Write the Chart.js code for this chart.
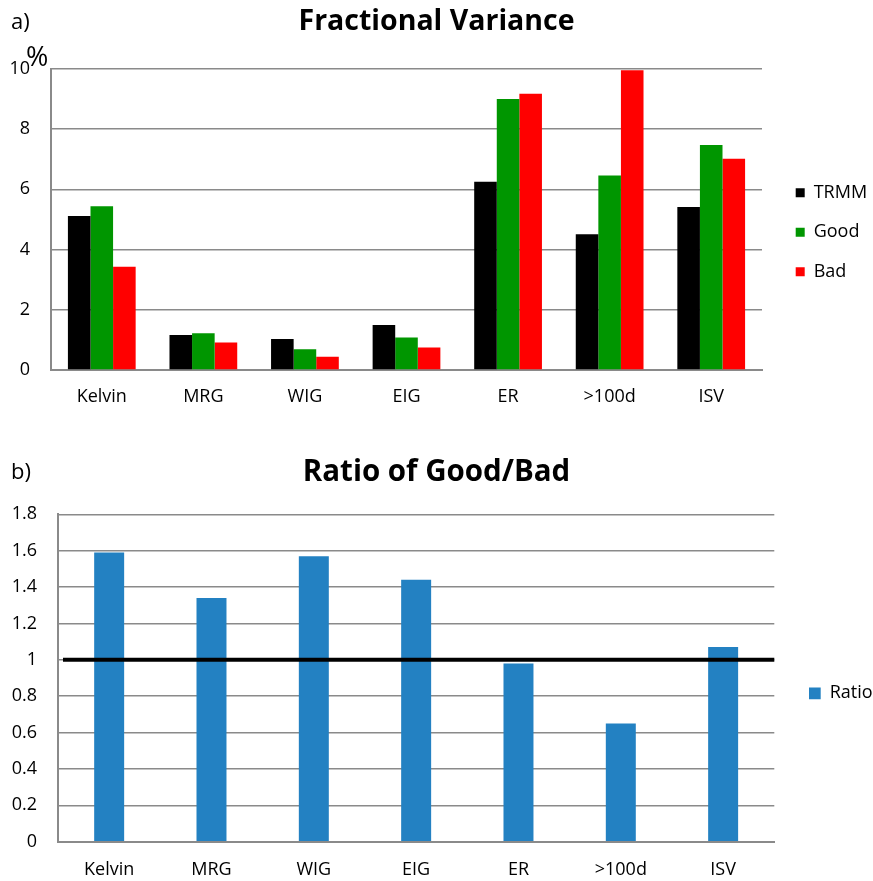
<!DOCTYPE html>
<html>
<head>
<meta charset="utf-8">
<script src="https://cdn.jsdelivr.net/npm/chart.js@4/dist/chart.umd.min.js"></script>
<style>
  html, body { margin: 0; padding: 0; background: #fff; overflow: hidden; }
  #page { position: relative; width: 873px; height: 881px; }
  .panel { position: absolute; left: 0; }
</style>
</head>
<body>
<div id="page">
  <div class="panel" style="top:0;width:873px;height:450px"><canvas id="fracChart" width="873" height="450"></canvas></div>
  <div class="panel" style="top:450px;width:873px;height:431px"><canvas id="ratioChart" width="873" height="431"></canvas></div>
</div>
<script>
// Wave categories shared by both panels
const categories = ['Kelvin', 'MRG', 'WIG', 'EIG', 'ER', '>100d', 'ISV'];

// Panel a: fractional variance (%)
const trmmVariance = [5.11, 1.16, 1.03, 1.49, 6.25, 4.51, 5.41];
const goodVariance = [5.44, 1.22, 0.69, 1.08, 9.00, 6.46, 7.47];
const badVariance  = [3.43, 0.91, 0.44, 0.75, 9.17, 9.95, 7.01];

// Panel b: ratio of good to bad
const goodBadRatio = [1.59, 1.34, 1.57, 1.44, 0.98, 0.65, 1.07];
const parityLevel = 1;

const FONT = '"Open Sans", Lato, sans-serif';
const GRID = '#8a8a8a';

Chart.defaults.color = '#000';
Chart.defaults.font.family = FONT;
Chart.defaults.animation = false;

// Moves the legend block to a fixed spot beside the plot
const legendPlace = {
  id: 'legendPlace',
  afterLayout(chart, args, opts) {
    const lg = chart.legend;
    if (!lg) return;
    const pad = lg.options.labels.padding;
    const w = lg.width, h = lg.height;
    lg.left = opts.x - pad; lg.right = lg.left + w;
    lg.top = opts.y - pad; lg.bottom = lg.top + h;
  }
};

// Panel tag ("a)", "b)") and the axis unit label
const panelText = {
  id: 'panelText',
  afterDraw(chart, args, opts) {
    const ctx = chart.ctx;
    ctx.save();
    ctx.fillStyle = '#000';
    ctx.textBaseline = 'alphabetic';
    ctx.textAlign = 'left';
    (opts.items || []).forEach(it => {
      ctx.font = it.size + 'px ' + FONT;
      ctx.fillText(it.text, it.x, it.y);
    });
    ctx.restore();
  }
};

// Horizontal reference line at a value of the y scale
const refLine = {
  id: 'refLine',
  afterDatasetsDraw(chart, args, opts) {
    if (opts.value === undefined) return;
    const {ctx, chartArea} = chart;
    const y = chart.scales.y.getPixelForValue(opts.value);
    ctx.save();
    ctx.strokeStyle = '#000';
    ctx.lineWidth = 4;
    ctx.beginPath();
    ctx.moveTo(chartArea.left + opts.inset, y);
    ctx.lineTo(chartArea.right, y);
    ctx.stroke();
    ctx.restore();
  }
};

function yAxis(max, step, width, fmt) {
  return {
    min: 0, max: max,
    ticks: { stepSize: step, padding: 21, font: { size: 18 }, callback: fmt },
    grid: { color: GRID, lineWidth: 1.5, drawTicks: false },
    border: { color: GRID, width: 2 },
    afterFit(s) { s.width = width; }
  };
}
function xAxis(height, pad) {
  return {
    ticks: { padding: pad, font: { size: 18 }, maxRotation: 0 },
    grid: { display: false, drawTicks: false },
    border: { color: GRID, width: 2 },
    afterFit(s) { s.height = height; }
  };
}

const fracChart = new Chart(document.getElementById('fracChart'), {
  type: 'bar',
  data: {
    labels: categories,
    datasets: [
      { label: 'TRMM', data: trmmVariance, backgroundColor: '#000000' },
      { label: 'Good', data: goodVariance, backgroundColor: '#009600' },
      { label: 'Bad',  data: badVariance,  backgroundColor: '#ff0000' }
    ]
  },
  options: {
    responsive: false,
    categoryPercentage: 0.667,
    barPercentage: 1,
    layout: { padding: { left: 9, right: 9, top: 0, bottom: 0 } },
    scales: {
      x: xAxis(80, 16),
      y: yAxis(10, 2, 42, v => String(v))
    },
    plugins: {
      title: { display: true, text: 'Fractional Variance', font: { size: 28.5, weight: 'bold' }, padding: { top: 5, bottom: 29.6 } },
      legend: { position: 'right', align: 'start', maxWidth: 102, labels: { boxWidth: 9, boxHeight: 9, padding: 21.5, font: { size: 18 } } },
      tooltip: { enabled: false },
      legendPlace: { x: 795.7, y: 183.7 },
      panelText: { items: [ { text: 'a)', x: 11, y: 29, size: 22 }, { text: '%', x: 26, y: 66, size: 27 } ] }
    }
  },
  plugins: [legendPlace, panelText]
});

const ratioChart = new Chart(document.getElementById('ratioChart'), {
  type: 'bar',
  data: {
    labels: categories,
    datasets: [
      { label: 'Ratio', data: goodBadRatio, backgroundColor: '#2381c2' }
    ]
  },
  options: {
    responsive: false,
    categoryPercentage: 1,
    barPercentage: 0.293,
    layout: { padding: { left: 9, right: 9, top: 0, bottom: 0 } },
    scales: {
      x: xAxis(39.3, 17.5),
      y: yAxis(1.8, 0.2, 49, v => String(Number(v.toFixed(1))))
    },
    plugins: {
      title: { display: true, text: 'Ratio of Good/Bad', font: { size: 29.5, weight: 'bold' }, padding: { top: 4.5, bottom: 24.4 } },
      legend: { position: 'right', align: 'start', maxWidth: 89.7, labels: { boxWidth: 11.7, boxHeight: 11.7, padding: 21.5, font: { size: 18 } } },
      tooltip: { enabled: false },
      legendPlace: { x: 809, y: 234.3 },
      refLine: { value: parityLevel, inset: 5 },
      panelText: { items: [ { text: 'b)', x: 11, y: 29, size: 22 } ] }
    }
  },
  plugins: [legendPlace, panelText, refLine]
});
</script>
</body>
</html>
